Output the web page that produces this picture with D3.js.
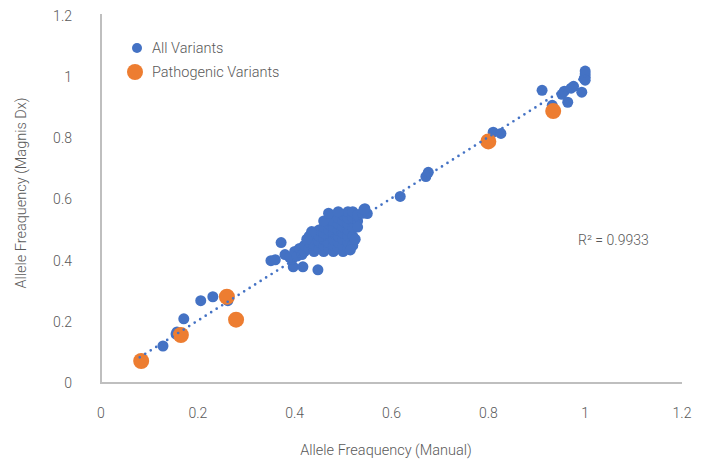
<!DOCTYPE html>
<html>
<head>
<meta charset="utf-8">
<script src="https://cdn.jsdelivr.net/npm/d3@7"></script>
<style>
  body { margin: 0; background: #fff; }
  text { font-family: Roboto, "Noto Sans", sans-serif; font-weight: 300; fill: #595959; }
</style>
</head>
<body>
<svg id="chart" width="706" height="460"></svg>
<script>
// manual vs Magnis Dx allele frequencies
var allManual = [
  0.128, 0.157, 0.155, 0.171, 0.206, 0.231, 0.262,
  0.351, 0.360, 0.372, 0.397, 0.417, 0.448,
  0.38, 0.395, 0.39, 0.40, 0.405, 0.41, 0.415, 0.42, 0.42, 0.43, 0.43, 0.43, 0.44,
  0.44, 0.44, 0.44, 0.45, 0.45, 0.45, 0.45, 0.46, 0.46, 0.46, 0.46, 0.46,
  0.47, 0.47, 0.47, 0.47, 0.47, 0.475, 0.48, 0.48, 0.48, 0.48, 0.48, 0.48,
  0.49, 0.49, 0.49, 0.49, 0.49, 0.49, 0.50, 0.50, 0.50, 0.50, 0.50, 0.50, 0.50,
  0.51, 0.51, 0.51, 0.51, 0.51, 0.51, 0.51, 0.52, 0.52, 0.52, 0.52, 0.52,
  0.53, 0.53, 0.54, 0.545, 0.55, 0.543,
  0.515, 0.525, 0.53, 0.46, 0.47, 0.49, 0.435, 0.425,
  0.618, 0.671, 0.676, 0.810, 0.826,
  0.911, 0.932, 0.952, 0.957, 0.964, 0.971, 0.976, 0.993,
  0.998, 1.0, 1.0, 1.0, 1.0
]
var allMagnis = [
  0.121, 0.167, 0.16, 0.210, 0.269, 0.282, 0.269,
  0.400, 0.403, 0.459, 0.380, 0.380, 0.370,
  0.42, 0.405, 0.41, 0.43, 0.415, 0.44, 0.42, 0.43, 0.45, 0.44, 0.46, 0.48, 0.43,
  0.45, 0.47, 0.49, 0.44, 0.46, 0.48, 0.50, 0.43, 0.45, 0.47, 0.49, 0.51,
  0.44, 0.46, 0.48, 0.50, 0.52, 0.54, 0.43, 0.45, 0.47, 0.49, 0.51, 0.53,
  0.44, 0.46, 0.48, 0.50, 0.52, 0.54, 0.43, 0.45, 0.47, 0.49, 0.51, 0.53, 0.55,
  0.44, 0.46, 0.48, 0.50, 0.52, 0.54, 0.56, 0.45, 0.48, 0.51, 0.54, 0.56,
  0.53, 0.55, 0.555, 0.57, 0.554, 0.567,
  0.435, 0.47, 0.51, 0.53, 0.555, 0.56, 0.495, 0.47,
  0.610, 0.675, 0.689, 0.820, 0.816,
  0.957, 0.908, 0.944, 0.954, 0.918, 0.964, 0.970, 0.951,
  0.995, 1.0, 1.01, 1.02, 0.99
]
var pathoManual = [0.083, 0.165, 0.260, 0.279, 0.800, 0.934]
var pathoMagnis = [0.072, 0.157, 0.282, 0.207, 0.790, 0.889]

// linear trendline shown on the chart
var trendSlope = 1.0
var trendIntercept = 0.004
var trendFrom = 0.08
var trendTo = 1.0
var rSquaredLabel = 'R² = 0.9933'

var xTicks = [0, 0.2, 0.4, 0.6, 0.8, 1, 1.2]
var yTicks = [0, 0.2, 0.4, 0.6, 0.8, 1, 1.2]
var legendLabels = ['All Variants', 'Pathogenic Variants']

var blue = '#4472C4'
var orange = '#ED7D31'
var axisGrey = '#BFBFBF'

var svg = d3.select('#chart')
var x = d3.scaleLinear().domain([0, 1.2]).range([101, 682])
var y = d3.scaleLinear().domain([0, 1.2]).range([383, 16])

// axis lines
svg.append('line')
  .attr('x1', x(0)).attr('x2', x(0))
  .attr('y1', y(1.2) - 2).attr('y2', y(0))
  .attr('stroke', axisGrey).attr('stroke-width', 2)
svg.append('line')
  .attr('x1', x(0) - 1).attr('x2', x(1.2))
  .attr('y1', y(0)).attr('y2', y(0))
  .attr('stroke', axisGrey).attr('stroke-width', 2)

// tick labels
svg.append('g').selectAll('text')
  .data(yTicks)
  .enter().append('text')
    .attr('x', 72)
    .attr('y', (d) => y(d))
    .attr('dy', '0.35em')
    .attr('text-anchor', 'end')
    .attr('font-size', 14)
    .text((d) => d3.format('')(d))

svg.append('g').selectAll('text')
  .data(xTicks)
  .enter().append('text')
    .attr('x', (d) => x(d))
    .attr('y', 418)
    .attr('text-anchor', 'middle')
    .attr('font-size', 14)
    .text((d) => d3.format('')(d))

// axis titles
svg.append('text')
  .attr('x', 386).attr('y', 455)
  .attr('text-anchor', 'middle')
  .attr('font-size', 14.5)
  .text('Allele Freaquency (Manual)')
svg.append('text')
  .attr('transform', 'translate(26,193) rotate(-90)')
  .attr('text-anchor', 'middle')
  .attr('font-size', 14.5)
  .text('Allele Freaquency (Magnis Dx)')

// points
var allPts = allManual.map((m, i) => ({ x: m, y: allMagnis[i] }))
var pathoPts = pathoManual.map((m, i) => ({ x: m, y: pathoMagnis[i] }))

svg.append('g').selectAll('circle')
  .data(allPts)
  .enter().append('circle')
    .attr('cx', (d) => x(d.x))
    .attr('cy', (d) => y(d.y))
    .attr('r', 5.5)
    .attr('fill', blue)

svg.append('g').selectAll('circle')
  .data(pathoPts)
  .enter().append('circle')
    .attr('cx', (d) => x(d.x))
    .attr('cy', (d) => y(d.y))
    .attr('r', 8)
    .attr('fill', orange)

// dotted trendline on top
svg.append('line')
  .attr('x1', x(trendFrom)).attr('y1', y(trendSlope * trendFrom + trendIntercept))
  .attr('x2', x(trendTo)).attr('y2', y(trendSlope * trendTo + trendIntercept))
  .attr('stroke', blue)
  .attr('stroke-width', 2.7)
  .attr('stroke-linecap', 'round')
  .attr('stroke-dasharray', '0 6.5')

svg.append('text')
  .attr('x', 578).attr('y', 240)
  .attr('dy', '0.35em')
  .attr('font-size', 14)
  .text(rSquaredLabel)

// legend
var legend = svg.append('g')
legend.append('circle').attr('cx', 137).attr('cy', 48).attr('r', 5).attr('fill', blue)
legend.append('circle').attr('cx', 135).attr('cy', 72).attr('r', 8).attr('fill', orange)
legend.selectAll('text')
  .data(legendLabels)
  .enter().append('text')
    .attr('x', 152)
    .attr('y', (d, i) => 48 + i * 24)
    .attr('dy', '0.35em')
    .attr('font-size', 14.5)
    .text((d) => d)
</script>
</body>
</html>
